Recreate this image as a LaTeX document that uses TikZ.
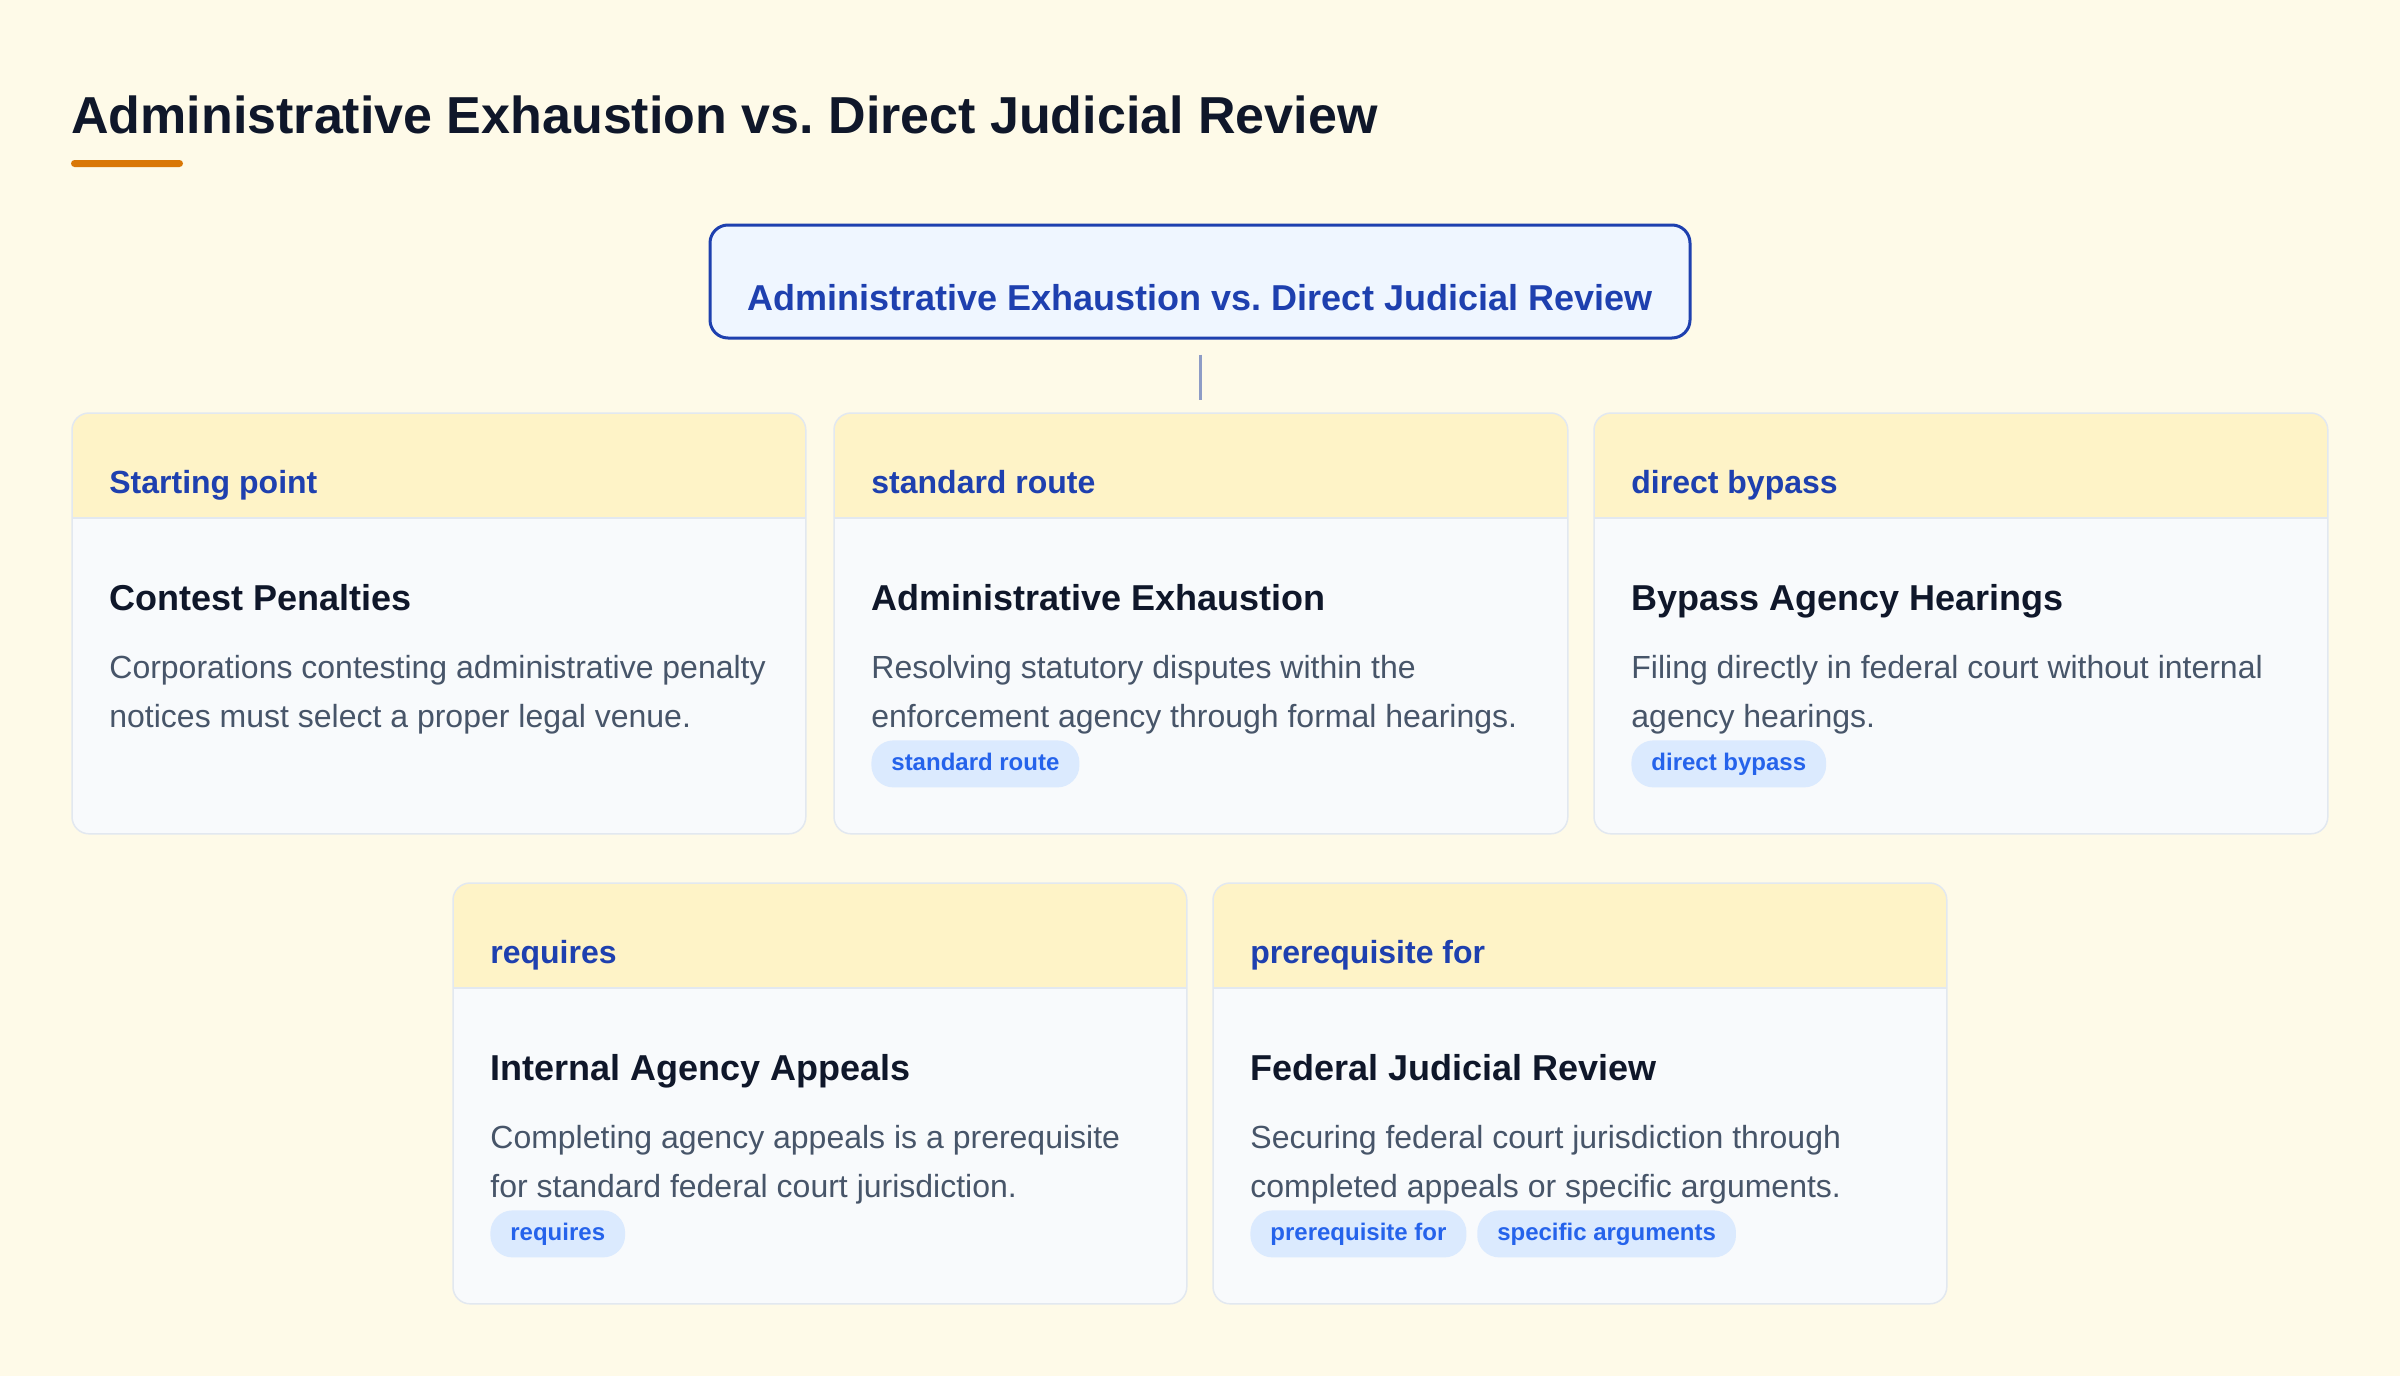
\documentclass[tikz,border=0pt]{standalone}
\usepackage{fontspec}
\setmainfont{Liberation Sans}
\usetikzlibrary{positioning}
\frenchspacing
\definecolor{bg}{HTML}{FEFAE8}
\definecolor{ink}{HTML}{0F172A}
\definecolor{accent}{HTML}{D97706}
\definecolor{navy}{HTML}{1E40AF}
\definecolor{mainfill}{HTML}{EFF6FF}
\definecolor{hdrfill}{HTML}{FEF3C7}
\definecolor{bodyfill}{HTML}{F8FAFC}
\definecolor{cardline}{HTML}{E2E8F0}
\definecolor{bodytext}{HTML}{475569}
\definecolor{pillfill}{HTML}{DBEAFE}
\definecolor{pilltext}{HTML}{2563EB}
\definecolor{connc}{HTML}{8E9CC6}
\tikzset{
  cardbox/.style={anchor=north west, fill=bodyfill, rounded corners=8.5pt, minimum width=366.5pt, minimum height=210pt, inner sep=0pt},
  cardborder/.style={draw=cardline, line width=0.75pt, rounded corners=8.5pt},
  sepline/.style={draw=cardline, line width=1pt},
  hdrtext/.style={anchor=base west, inner sep=0pt, text=navy, font=\bfseries\fontsize{16}{19}\selectfont},
  ttltext/.style={anchor=base west, inner sep=0pt, text=ink, font=\bfseries\fontsize{18}{22}\selectfont},
  bodytxt/.style={anchor=base west, inner sep=0pt, text=bodytext, font=\fontsize{16}{19}\selectfont},
  pill/.style={anchor=north west, fill=pillfill, rounded corners=11pt, inner xsep=10pt, inner ysep=0pt, minimum height=23.5pt, text height=8.6pt, text depth=2.4pt, text=pilltext, font=\bfseries\fontsize{12}{14}\selectfont},
  mainbox/.style={draw=navy, fill=mainfill, line width=1.5pt, rounded corners=9pt, minimum width=490pt, minimum height=56.5pt, inner sep=0pt},
  conn/.style={draw=connc, line width=1.5pt}
}
\newcommand\mycard[7]{%
  \node[cardbox] (#1) at (#2) {};
  \begin{scope}
    \clip[rounded corners=8.5pt] (#1.north west) rectangle (#1.south east);
    \fill[hdrfill] (#1.north west) rectangle ([yshift=-52.5pt]#1.north east);
  \end{scope}
  \draw[sepline] ([yshift=-52.5pt]#1.north west) -- ([yshift=-52.5pt]#1.north east);
  \draw[cardborder] (#1.north west) rectangle (#1.south east);
  \node[hdrtext] (#1h) at ([xshift=18.5pt,yshift=-40pt]#1.north west) {#3};
  \node[ttltext] (#1t) at ([xshift=18.5pt,yshift=-98.5pt]#1.north west) {#4};
  \node[bodytxt] (#1a) at ([xshift=18.5pt,yshift=-132.5pt]#1.north west) {#5};
  \node[bodytxt] (#1b) at ([xshift=18.5pt,yshift=-157pt]#1.north west) {#6};
  #7%
}
\begin{document}
\begin{tikzpicture}[x=0.5pt,y=-0.5pt]
\fill[bg] (0,0) rectangle (2400,1376);
\useasboundingbox (0,0) rectangle (2400,1376);

\node[anchor=base west, inner sep=0pt, text=ink, font=\bfseries\fontsize{26}{30}\selectfont] (title) at (71,133) {Administrative Exhaustion vs. Direct Judicial Review};
\fill[accent, rounded corners=1.75pt] (71,160) rectangle (183,167);

\node[mainbox] (main) at (1200,281.5) {};
\node[anchor=base, inner sep=0pt, text=navy, font=\bfseries\fontsize{18}{22}\selectfont] (maintext) at (1200,310) {Administrative Exhaustion vs. Direct Judicial Review};

\mycard{c1}{72,413}{Starting point}{Contest Penalties}{Corporations contesting administrative penalty}{notices must select a proper legal venue.}{}
\mycard{c2}{834,413}{standard route}{Administrative Exhaustion}{Resolving statutory disputes within the}{enforcement agency through formal hearings.}{%
  \node[pill] (c2p1) at ([xshift=18.5pt,yshift=-163.5pt]c2.north west) {standard route};}
\mycard{c3}{1594,413}{direct bypass}{Bypass Agency Hearings}{Filing directly in federal court without internal}{agency hearings.}{%
  \node[pill] (c3p1) at ([xshift=18.5pt,yshift=-163.5pt]c3.north west) {direct bypass};}
\mycard{c4}{453,883}{requires}{Internal Agency Appeals}{Completing agency appeals is a prerequisite}{for standard federal court jurisdiction.}{%
  \node[pill] (c4p1) at ([xshift=18.5pt,yshift=-163.5pt]c4.north west) {requires};}
\mycard{c5}{1213,883}{prerequisite for}{Federal Judicial Review}{Securing federal court jurisdiction through}{completed appeals or specific arguments.}{%
  \node[pill] (c5p1) at ([xshift=18.5pt,yshift=-163.5pt]c5.north west) {prerequisite for};
  \node[pill, anchor=west] (c5p2) at ([xshift=5pt]c5p1.east) {specific arguments};}

\draw[conn, shorten <=7.5pt, shorten >=6.5pt] (main.south) -- (main.south |- c2.north);
\end{tikzpicture}
\end{document}
